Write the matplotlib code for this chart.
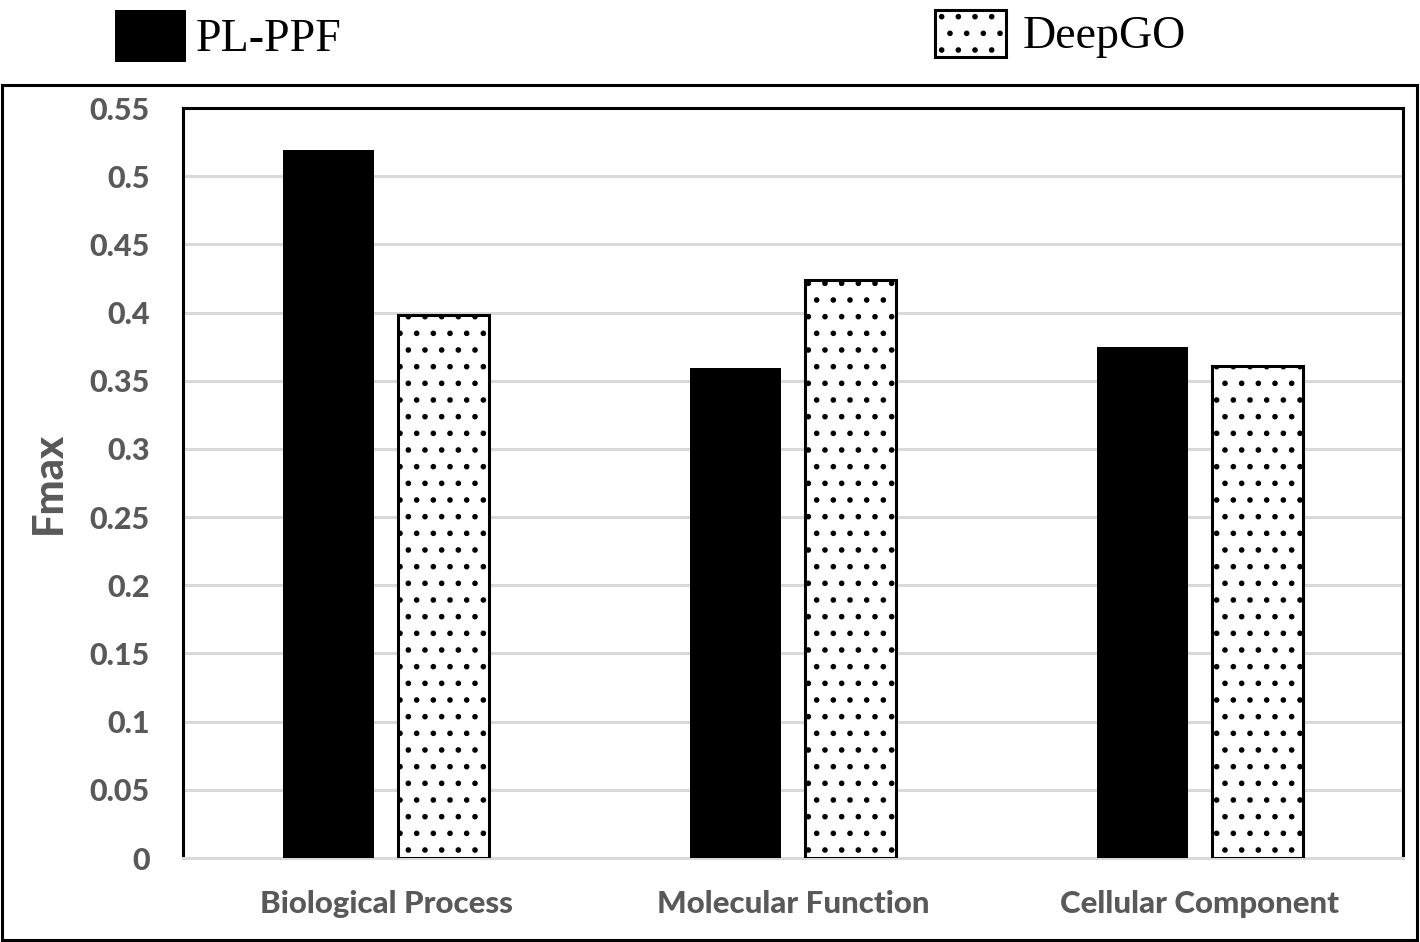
import numpy as np
import matplotlib
matplotlib.use("Agg")
import matplotlib.pyplot as plt
from matplotlib.patches import Rectangle

# ---------------- data ----------------
categories = ["Biological Process", "Molecular Function", "Cellular Component"]
pl_ppf = [0.519, 0.359, 0.375]
deepgo = [0.398, 0.424, 0.361]
yticks = [0, 0.05, 0.1, 0.15, 0.2, 0.25, 0.3, 0.35, 0.4, 0.45, 0.5, 0.55]
ytick_labels = ["0", "0.05", "0.1", "0.15", "0.2", "0.25", "0.3", "0.35", "0.4", "0.45", "0.5", "0.55"]

gray = "#595959"
grid_gray = "#d9d9d9"
plt.rcParams["hatch.linewidth"] = 1.6

fig = plt.figure(figsize=(14.2, 9.42), dpi=100)
W, H = 1420, 942

# outer frame box around the chart
fig.patches.append(Rectangle((2 / W, 2 / H), 1415 / W, (940 - 85) / H,
                             transform=fig.transFigure, fill=False,
                             edgecolor="black", linewidth=2.2))

ax = fig.add_axes([183 / W, 1 - 858 / H, (1403 - 183) / W, (858 - 108) / H])

x = np.arange(len(categories))
bw = 0.224
off = 0.1415
b1 = ax.bar(x - off, pl_ppf, bw, color="black", edgecolor="black", linewidth=0, zorder=3)
b2 = ax.bar(x + off, deepgo, bw, color="white", edgecolor="black", linewidth=2.2,
            hatch=".", zorder=3)

ax.set_xlim(-0.5, 2.5)
ax.set_ylim(0, 0.55)
ax.set_yticks(yticks)
ax.set_yticklabels(ytick_labels)
ax.set_xticks(x)
ax.set_xticklabels(categories)
ax.grid(axis="y", color=grid_gray, linewidth=2.2, zorder=0)
ax.set_axisbelow(True)

for s in ["left", "top", "right"]:
    ax.spines[s].set_linewidth(2.2)
    ax.spines[s].set_color("black")
ax.spines["bottom"].set_color(grid_gray)
ax.spines["bottom"].set_linewidth(2.2)

ax.tick_params(axis="both", length=0)
ax.tick_params(axis="y", pad=24)
ax.tick_params(axis="x", pad=23)
for lbl in ax.get_yticklabels():
    lbl.set_fontfamily("Lato")
    lbl.set_fontweight("black")
    lbl.set_color(gray)
    lbl.set_fontsize(22)
for lbl in ax.get_xticklabels():
    lbl.set_fontfamily("Lato")
    lbl.set_fontweight("black")
    lbl.set_color(gray)
    lbl.set_fontsize(22.5)

ax.set_ylabel("Fmax", fontfamily="Lato", fontweight="black", color=gray, fontsize=30)
ax.yaxis.set_label_coords(-0.094, 0.5)

# legend (two entries placed apart, top of figure)
leg_font = {"family": "Liberation Serif", "size": 33}
l1 = fig.legend([b1], ["PL-PPF"], loc="center left", bbox_to_anchor=(97 / W, 1 - 36 / H),
                frameon=False, prop=leg_font, handlelength=1.55, handleheight=1.35,
                handletextpad=0.2, borderaxespad=0)
l2 = fig.legend([b2], ["DeepGO"], loc="center left", bbox_to_anchor=(917 / W, 1 - 34 / H),
                frameon=False, prop=leg_font, handlelength=1.55, handleheight=1.2,
                handletextpad=0.35, borderaxespad=0)

fig.savefig("out.png", dpi=100)
